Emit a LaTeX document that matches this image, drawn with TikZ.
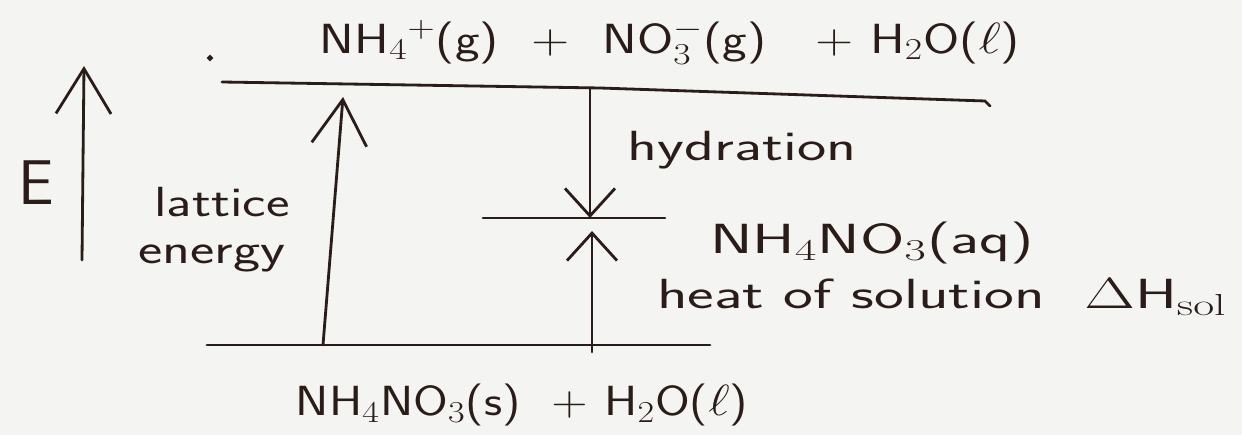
\documentclass[tikz,border=0pt]{standalone}
\usepackage{graphicx}
\usetikzlibrary{arrows.meta}
\definecolor{ink}{HTML}{2A1C18}
\definecolor{paper}{HTML}{F4F4F2}
\newcommand{\stretchtxt}[2]{\scalebox{#1}[1]{#2}}
\begin{document}
\begin{tikzpicture}[x=0.02cm,y=-0.02cm,
  ink/.style={draw=ink,line width=1.6pt,line cap=round},
  lbl/.style={text=ink,font=\sffamily\fontsize{24}{28}\selectfont,inner sep=0pt},
  big/.style={-{Straight Barb[length=9mm,width=11mm,line width=1.6pt]}},
  small/.style={-{Straight Barb[length=5.5mm,width=10mm,line width=1.6pt]}}]
\fill[paper] (0,0) rectangle (1242,435);
\useasboundingbox (0,0) rectangle (1242,435);
% levels
\coordinate (topL) at (222,82);
\coordinate (topR) at (985,101);
\coordinate (midL) at (483,218);
\coordinate (midR) at (665,218);
\coordinate (botL) at (207,345);
\coordinate (botR) at (710,345);
\draw[ink] (topL) -- (600,88) -- (topR) -- (990,106);
\draw[ink] (midL) -- (midR);
\draw[ink] (botL) -- (botR);
% axis
\coordinate (eB) at (82,260);
\coordinate (eT) at (84,66);
\draw[ink,big] (eB) -- (eT);
\node[lbl,font=\sffamily\fontsize{36}{40}\selectfont] (E) at (36,183) {E};
% lattice energy
\coordinate (latB) at (323,345);
\coordinate (latT) at (343,97);
\draw[ink,big] (latB) -- (latT);
\node[lbl] (lat1) at (222,202) {\stretchtxt{1.33}{lattice}};
\node[lbl] (lat2) at (212,258) {\stretchtxt{1.37}{energy}};
% hydration
\coordinate (hydT) at (590,88);
\coordinate (hydB) at (590,218);
\draw[ink,small] (hydT) -- (hydB);
\node[lbl] (hyd) at (742,150) {\stretchtxt{1.47}{hydration}};
% heat of solution
\coordinate (solB) at (592,352);
\coordinate (solT) at (592,231);
\draw[ink,small] (solB) -- (solT);
\node[lbl] (sol) at (942,297) {\stretchtxt{1.5}{heat of solution \ $\Delta$H$_{\mathrm{sol}}$}};
% species
\node[lbl] (top) at (670,42) {\stretchtxt{1.24}{NH$_4$$^+$(g) \ + \ NO$_3^-$(g) \ \ + H$_2$O($\ell$)}};
\node[lbl] (aq) at (872,243) {\stretchtxt{1.52}{NH$_4$NO$_3$(aq)}};
\node[lbl] (bot) at (522,405) {\stretchtxt{1.19}{NH$_4$NO$_3$(s) \ + H$_2$O($\ell$)}};
\fill[ink] (210,58) circle (1.5);
\end{tikzpicture}
\end{document}
